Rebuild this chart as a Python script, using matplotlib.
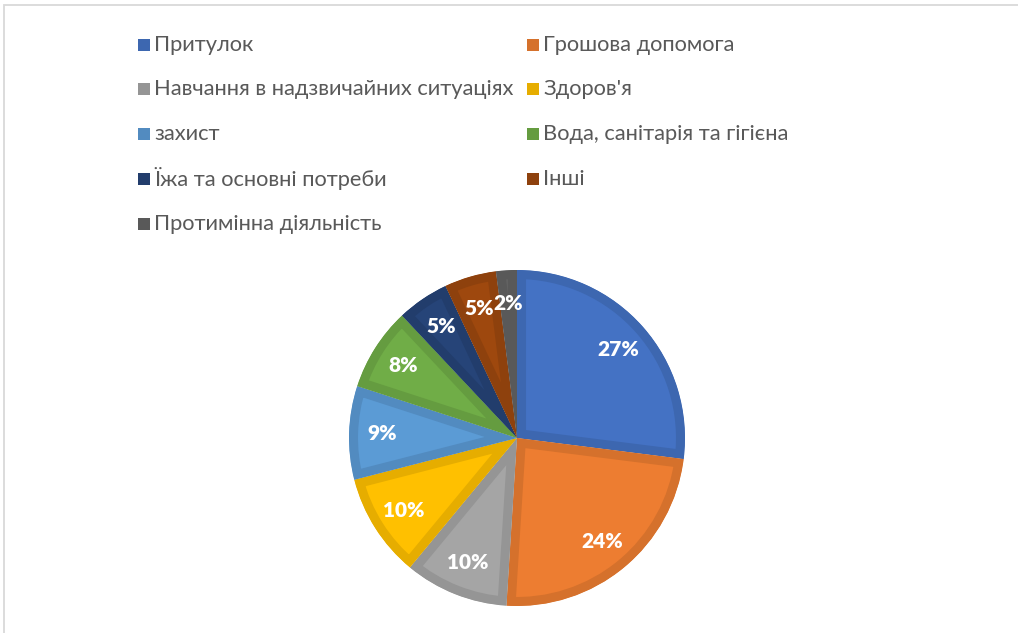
import matplotlib
matplotlib.use("Agg")
import matplotlib.pyplot as plt
from matplotlib.patches import Rectangle
from matplotlib.colors import to_rgb

categories = ['Притулок', 'Грошова допомога', 'Навчання в надзвичайних ситуаціях',
              "Здоров'я", 'захист', 'Вода, санітарія та гігієна',
              'Їжа та основні потреби', 'Інші', 'Протимінна діяльність']
shares = [27, 24, 10, 10, 9, 8, 5, 5, 2]
colors = ['#4472C4', '#ED7D31', '#A5A5A5', '#FFC000', '#5B9BD5',
          '#70AD47', '#264478', '#9E480E', '#636363']

W, H = 1018, 633
plt.rcParams['font.family'] = ['Lato', 'DejaVu Sans']


def darker(c, f=0.9):
    r, g, b = to_rgb(c)
    return (r * f, g * f, b * f)


fig = plt.figure(figsize=(W / 100, H / 100), dpi=100)

# light grey frame, cropped at right and bottom
frame = Rectangle((4 / W, -0.05), 1.1, 1 - 5 / H + 0.05, transform=fig.transFigure,
                  fill=False, edgecolor='#D9D9D9', linewidth=1.3)
fig.patches.append(frame)

# pie axes
cx, cy, r = 517, 438, 168
ax = fig.add_axes([(cx - r) / W, (H - cy - r) / H, 2 * r / W, 2 * r / H])
wedges, texts, autotexts = ax.pie(
    shares, colors=colors, startangle=90, counterclock=False, radius=1,
    autopct='%1.0f%%', pctdistance=0.8,
    textprops=dict(color='white', fontsize=15, fontweight='heavy'))
for w, c in zip(wedges, colors):
    # inner border only: stroke clipped to the wedge itself
    w.set_edgecolor(darker(c))
    w.set_linewidth(13)
    w.set_clip_on(True)
    w.set_clip_path(w)
ax.set_xlim(-1, 1)
ax.set_ylim(-1, 1)
ax.set_aspect('equal')
ax.axis('off')

# legend, two columns
col_sq = [138, 527]
row_y = [45, 89, 134, 179, 224]
sq = 12
legend_texts = []
for i, (lab, c) in enumerate(zip(categories, colors)):
    col, row = i % 2, i // 2
    x, y = col_sq[col], row_y[row]
    fig.patches.append(Rectangle((x / W, 1 - (y + sq / 2) / H), sq / W, sq / H,
                                 transform=fig.transFigure, facecolor=darker(c),
                                 edgecolor='none'))
    t = fig.text((x + sq + 4) / W, 1 - y / H, lab, fontsize=14, color='#595959',
                 va='center', ha='left')
    legend_texts.append(t)

# fit the longest legend entry to the width it has in the reference
renderer = fig.canvas.get_renderer()
longest = legend_texts[2]
wpx = longest.get_window_extent(renderer).width
size = 14 * 362 / wpx
for t in legend_texts:
    t.set_fontsize(size)

fig.savefig('out.png', dpi=100)
